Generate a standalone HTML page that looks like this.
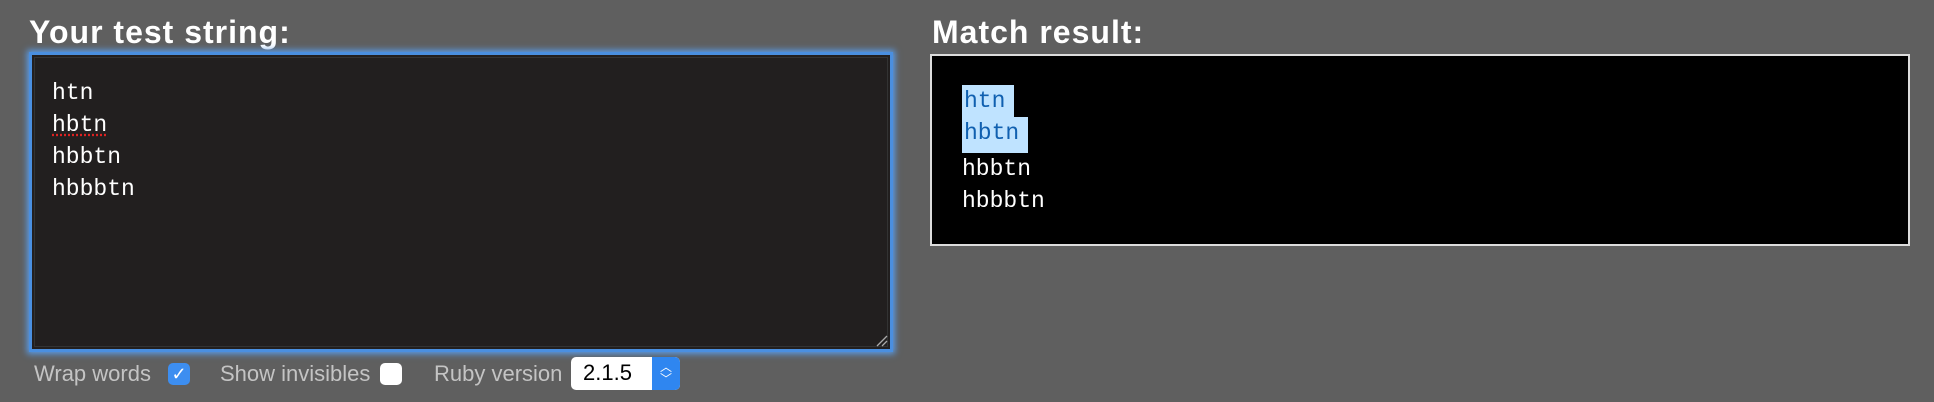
<!DOCTYPE html>
<html><head><meta charset="utf-8"><style>
html,body{margin:0;padding:0}
body{width:1934px;height:402px;background:#5f5f5f;position:relative;overflow:hidden;font-family:"Liberation Sans",sans-serif}
.t{position:absolute;color:#fff;font-weight:bold;font-size:32px;letter-spacing:1px;line-height:1}
.box1{position:absolute;left:29px;top:52px;width:858px;height:294px;border:3px solid #4a8fe0;box-shadow:0 0 6px 2px #5a9ce8;background:#221f1f;box-sizing:content-box}
.box1 .in{position:absolute;left:2px;top:2px;right:2px;bottom:2px;border:1px solid #333}
.mono{font-family:"Liberation Mono",monospace;font-size:23px;color:#fff;position:absolute;line-height:32px}
.box2{position:absolute;left:930px;top:54px;width:976px;height:188px;border:2px solid #ddd;background:#000}
.hl{background:#bfe3ff;color:#1060b0}
.lbl{position:absolute;top:361px;color:#c4c4c4;font-size:22px;line-height:26px}
.cb{position:absolute;top:363px;width:22px;height:22px;border-radius:5px}
</style></head><body>
<div class="t" style="left:29px;top:16px">Your test string:</div>
<div class="t" style="left:932px;top:16px">Match result:</div>
<div class="box1"><div class="in"></div>
<div class="mono" style="left:20px;top:22px">htn<br><span style="text-decoration:underline dotted #d22;text-underline-offset:3px">hbtn</span><br>hbbtn<br>hbbbtn</div>
<svg style="position:absolute;right:2px;bottom:2px" width="14" height="14"><path d="M3 13L13 3M8 13L13 8" stroke="#aaa" stroke-width="1.3"/></svg>
</div>
<div class="box2">
<div class="mono" style="left:30px;top:29px"><span class="hl" style="display:inline-block;width:50px;padding-left:2px">htn</span><br><span class="hl" style="display:inline-block;width:64px;padding-left:2px;height:36px">hbtn</span><br>hbbtn<br>hbbbtn</div>
</div>
<div class="lbl" style="left:34px">Wrap words</div>
<div class="cb" style="left:168px;background:#3d8ef0;color:#fff;font-size:18px;text-align:center;line-height:22px">✓</div>
<div class="lbl" style="left:220px">Show invisibles</div>
<div class="cb" style="left:380px;background:#fff"></div>
<div class="lbl" style="left:434px">Ruby version</div>
<div style="position:absolute;left:571px;top:357px;width:109px;height:33px;background:#fff;border-radius:5px;overflow:hidden">
<div style="position:absolute;left:12px;top:3px;font-size:22px;color:#000">2.1.5</div>
<div style="position:absolute;right:0;top:0;width:28px;height:33px;background:#2f86f0;color:#fff;font-size:12px;text-align:center;line-height:12px;padding-top:4px;box-sizing:border-box">︿<br>﹀</div>
</div>
</body></html>
